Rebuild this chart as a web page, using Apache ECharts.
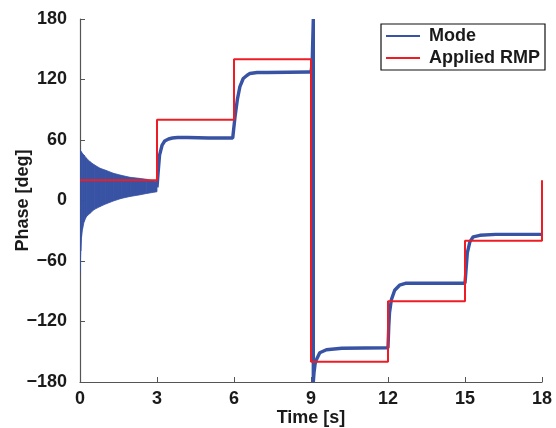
<!DOCTYPE html>
<html><head><meta charset="utf-8">
<script src="https://cdn.jsdelivr.net/npm/echarts@6/dist/echarts.min.js"></script>
<style>html,body{margin:0;padding:0;background:#fff}#c{width:556px;height:428px}</style>
</head><body><div id="c"></div>
<script>
// Applied RMP phase (step function)
const rmpTime  = [0, 3, 3, 6, 6, 9, 9, 12, 12, 15, 15, 18, 18];
const rmpPhase = [20, 20, 80, 80, 140, 140, -160, -160, -100, -100, -40, -40, 20];

// Mode: fast decaying oscillation envelope for 0-3 s
const bandTime  = [0, 0.03, 0.06, 0.1, 0.16, 0.25, 0.39, 0.55, 0.78, 1.0, 1.3, 1.6, 1.95, 2.3, 2.6, 3.0];
const bandUpper = [51, 49, 48, 46.5, 45, 42, 38.5, 35.5, 32, 30, 27, 25, 23, 22, 21, 18.7];
const bandLower = [-72, -50, -36, -28, -21, -16, -12.7, -9, -6, -3.5, -0.5, 2, 4, 5.5, 7, 8.7];

// Mode phase after 3 s
const modeTime  = [3.0, 3.05, 3.1, 3.2, 3.3, 3.45, 3.6, 3.8, 4.2, 5.0, 5.95,
                   6.04, 6.13, 6.23, 6.36, 6.5, 6.62, 6.9, 7.3, 8.9, 9.0, 9.03, 9.05, 9.07, 9.09,
                   9.09, 9.12, 9.16, 9.21, 9.34, 9.6, 10.2, 12.0,
                   12.03, 12.06, 12.13, 12.26, 12.45, 12.71, 13.5, 15.0,
                   15.04, 15.09, 15.19, 15.32, 15.58, 16.2, 18.0];
const modePhase = [13, 30, 45, 55, 59, 61, 62, 62.5, 62.5, 62, 62,
                   83, 100, 113, 121, 124, 126, 127, 127, 127.5, 127.5, 133, 140, 160, 180,
                   -180, -170, -162, -158, -151, -148, -146.5, -146,
                   -125, -111, -98.5, -89, -84, -82, -82, -82,
                   -69, -52, -41, -36, -34.5, -33.6, -33.6];

const xTicks = {min: 0, max: 18, step: 3};
const yTicks = {min: -180, max: 180, step: 60};

const blue = '#3953a4';
const red = '#ee1c25';
const font = "'Liberation Sans', Arial, Helvetica, sans-serif";

const chart = echarts.init(document.getElementById('c'), null, {renderer: 'canvas'});
chart.setOption({
  animation: false,
  backgroundColor: '#fff',
  textStyle: {fontFamily: font},
  grid: {left: 80, right: 14, top: 19, bottom: 46, outerBoundsMode: 'none', containLabel: false},
  legend: {
    data: ['Mode', 'Applied RMP'],
    orient: 'vertical',
    right: 11, top: 24,
    backgroundColor: '#fff',
    borderColor: '#111', borderWidth: 1.2, borderRadius: 0,
    padding: [1, 5, 1, 5],
    itemGap: 0,
    itemWidth: 34, itemHeight: 2,
    icon: 'rect',
    textStyle: {fontFamily: font, fontWeight: 'bold', fontSize: 18, color: '#1a1a1a',
                lineHeight: 22, padding: [0, 0, 0, 4]}
  },
  xAxis: {
    type: 'value', min: xTicks.min, max: xTicks.max, interval: xTicks.step,
    name: 'Time [s]', nameLocation: 'middle', nameGap: 27, nameMoveOverlap: false,
    nameTextStyle: {fontFamily: font, fontWeight: 'bold', fontSize: 18, color: '#1a1a1a'},
    axisLine: {show: true, onZero: false, lineStyle: {color: '#555', width: 1.2}},
    axisTick: {show: true, inside: true, length: 5, lineStyle: {color: '#555'}},
    axisLabel: {margin: 8, fontFamily: font, fontWeight: 'bold', fontSize: 18, color: '#1a1a1a'},
    splitLine: {show: false}
  },
  yAxis: {
    type: 'value', min: yTicks.min, max: yTicks.max, interval: yTicks.step,
    name: 'Phase [deg]', nameLocation: 'middle', nameGap: 48, nameMoveOverlap: false,
    nameTextStyle: {fontFamily: font, fontWeight: 'bold', fontSize: 18, color: '#1a1a1a'},
    axisLine: {show: true, onZero: false, lineStyle: {color: '#555', width: 1.2}},
    axisTick: {show: true, inside: true, length: 5, lineStyle: {color: '#555'}},
    axisLabel: {margin: 13, fontFamily: font, fontWeight: 'bold', fontSize: 18, color: '#1a1a1a',
                formatter: v => String(v).replace('-', '\u2212')},
    splitLine: {show: false}
  },
  series: [
    {
      name: 'Mode', type: 'custom', color: blue, z: 2,
      clip: true,
      data: bandTime.map((t, i) => [t, bandLower[i], bandUpper[i]]),
      renderItem: function (params, api) {
        const i = params.dataIndex;
        if (i >= bandTime.length - 1) return null;
        const p0u = api.coord([bandTime[i], bandUpper[i]]);
        const p1u = api.coord([bandTime[i + 1], bandUpper[i + 1]]);
        const p1l = api.coord([bandTime[i + 1], bandLower[i + 1]]);
        const p0l = api.coord([bandTime[i], bandLower[i]]);
        return {
          type: 'polygon',
          shape: {points: [p0u, p1u, p1l, p0l]},
          style: {fill: blue, stroke: blue, lineWidth: 0.8}
        };
      }
    },
    {
      name: 'Mode', type: 'line',
      data: modeTime.map((t, i) => [t, modePhase[i]]),
      showSymbol: false, symbol: 'none', color: blue,
      lineStyle: {color: blue, width: 3.4}, z: 3
    },
    {
      name: 'Applied RMP', type: 'line',
      data: rmpTime.map((t, i) => [t, rmpPhase[i]]),
      showSymbol: false, symbol: 'none', color: red,
      lineStyle: {color: red, width: 2}, z: 4
    }
  ]
});
</script>
</body></html>
